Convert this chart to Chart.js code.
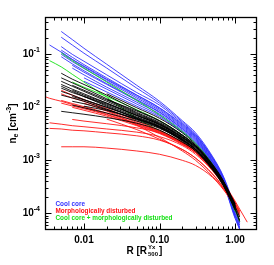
<!DOCTYPE html>
<html><head><meta charset="utf-8">
<script src="https://cdn.jsdelivr.net/npm/chart.js@4"></script>
<style>html,body{margin:0;padding:0;background:#fff}canvas{display:block}</style>
</head><body>
<canvas id="c" width="274" height="265"></canvas>
<script>
// radius grid (R / R500) shared by every profile; null = profile not measured there
const radius = [0.003,0.0035,0.005,0.007,0.01,0.02,0.05,0.1,0.2,0.3,0.5,0.7,1.0,1.15,1.45];

const coolCore = [
  [null,null,0.27,0.19,0.13,0.065,0.026,0.013,0.0056,0.0033,0.0012,5.0e-4,1.3e-4,null,null],
  [null,null,0.21,0.15,0.105,0.055,0.023,0.012,0.0053,0.0031,0.00115,4.8e-4,1.2e-4,6.5e-5,null],
  [null,0.15,0.11,0.08,0.06,0.034,0.017,0.0098,0.0048,0.0029,0.0011,4.6e-4,1.15e-4,null,null],
  [null,null,0.14,0.10,0.074,0.041,0.019,0.011,0.005,0.003,0.00112,4.7e-4,1.1e-4,6e-5,null],
  [null,null,0.12,0.088,0.064,0.036,0.017,0.0097,0.0046,0.0028,0.00105,4.4e-4,1.05e-4,null,null],
  [null,null,0.11,0.08,0.058,0.033,0.016,0.0092,0.0044,0.0027,0.001,4.2e-4,1.0e-4,5.5e-5,null],
  [null,null,0.10,0.073,0.054,0.031,0.015,0.0087,0.0042,0.0026,9.7e-4,4.1e-4,9.5e-5,null,null],
  [null,null,0.09,0.066,0.049,0.028,0.014,0.0082,0.004,0.0025,9.4e-4,4.0e-4,9.2e-5,5.2e-5,null],
  [null,null,null,0.062,0.046,0.027,0.0135,0.008,0.0039,0.0024,9.1e-4,3.9e-4,9e-5,null,null],
  [null,null,null,0.055,0.041,0.024,0.0125,0.0075,0.0037,0.0023,8.8e-4,3.8e-4,8.6e-5,5e-5,null],
  [null,null,null,null,0.036,0.022,0.0115,0.007,0.0035,0.0022,8.5e-4,3.7e-4,8.3e-5,null,null],
  [null,null,null,null,0.031,0.0195,0.0105,0.0066,0.0034,0.0021,8.2e-4,3.6e-4,8e-5,5e-5,null]
];

const coolCoreDisturbed = [
  [null,null,0.106,0.076,0.055,0.03,0.0135,0.0072,0.0035,0.0021,8.5e-4,3.8e-4,1.1e-4,null,null],
  [null,0.076,0.058,0.042,0.030,0.0155,0.0062,0.0036,0.0022,0.0015,6.8e-4,3.3e-4,1.15e-4,7e-5,null],
  [null,null,null,0.03,0.024,0.016,0.009,0.0056,0.003,0.0019,8e-4,3.6e-4,1.2e-4,null,null]
];

const otherClusters = [
  [null,null,0.044,0.034,0.027,0.017,0.0088,0.0056,0.003,0.0019,8.3e-4,4e-4,1.45e-4,null,null],
  [null,null,0.036,0.029,0.023,0.0145,0.008,0.0052,0.0029,0.0018,8.0e-4,3.9e-4,1.4e-4,null,null],
  [null,null,0.031,0.025,0.02,0.013,0.0074,0.0049,0.0027,0.0017,7.7e-4,3.8e-4,1.35e-4,8.5e-5,null],
  [null,null,0.027,0.022,0.018,0.012,0.007,0.0047,0.0026,0.0017,7.5e-4,3.7e-4,1.3e-4,null,null],
  [null,null,0.023,0.019,0.016,0.011,0.0066,0.0045,0.0025,0.0016,7.3e-4,3.6e-4,1.3e-4,null,null],
  [null,null,0.02,0.017,0.014,0.01,0.0062,0.0043,0.0024,0.0016,7.1e-4,3.5e-4,1.25e-4,7.5e-5,null],
  [null,null,0.017,0.015,0.013,0.0092,0.0058,0.0041,0.0023,0.0015,6.9e-4,3.4e-4,1.2e-4,null,null],
  [null,null,0.0084,0.0079,0.0074,0.0064,0.005,0.0037,0.0022,0.0015,6.6e-4,3.3e-4,1.2e-4,null,null],
  [null,null,null,0.021,0.017,0.012,0.0071,0.0047,0.0027,0.0018,7.8e-4,3.9e-4,1.4e-4,null,null],
  [null,null,null,0.026,0.021,0.0138,0.0077,0.005,0.0028,0.0018,7.8e-4,3.8e-4,1.35e-4,null,null],
  [null,null,null,0.013,0.0117,0.009,0.006,0.0042,0.0024,0.0016,7.1e-4,3.5e-4,1.25e-4,null,null],
  [null,null,null,null,0.016,0.0115,0.007,0.0048,0.0027,0.0018,8.0e-4,4e-4,1.5e-4,null,null],
  [null,null,null,null,null,0.018,0.0098,0.0062,0.0033,0.002,8.5e-4,4.1e-4,1.4e-4,null,null],
  [null,null,null,null,null,0.014,0.0085,0.0055,0.003,0.0019,8.2e-4,4e-4,1.5e-4,null,null],
  [null,null,null,null,0.0105,0.0087,0.006,0.0043,0.0025,0.0016,7.0e-4,3.4e-4,1.15e-4,null,null],
  [null,null,null,0.016,0.0138,0.01,0.0064,0.0044,0.0025,0.0016,7.2e-4,3.5e-4,1.2e-4,7e-5,null],
  [null,null,0.025,0.02,0.016,0.0105,0.0062,0.0042,0.0024,0.0016,7.3e-4,3.7e-4,1.35e-4,null,null],
  [null,null,null,0.011,0.0098,0.0078,0.0055,0.004,0.0024,0.0016,7.2e-4,3.6e-4,1.3e-4,null,null]
];

const disturbed = [
  [0.016,0.0148,0.013,0.0113,0.0098,0.0074,0.0048,0.0034,0.0021,0.0015,7.2e-4,3.8e-4,1.7e-4,1.2e-4,6.8e-5],
  [null,null,0.0135,0.0118,0.0103,0.0078,0.005,0.0035,0.0022,0.0015,7.2e-4,3.7e-4,1.6e-4,1.1e-4,null],
  [null,null,0.012,0.0106,0.0094,0.0072,0.0047,0.0033,0.002,0.0014,6.8e-4,3.6e-4,1.55e-4,null,null],
  [null,null,null,0.01,0.0088,0.0068,0.0045,0.0032,0.002,0.0014,6.6e-4,3.5e-4,1.5e-4,1.0e-4,null],
  [null,0.0051,0.0048,0.0045,0.0043,0.0039,0.0034,0.0028,0.0019,0.0013,6.4e-4,3.4e-4,1.5e-4,1.05e-4,null],
  [null,0.004,0.0039,0.0037,0.0036,0.0033,0.0029,0.0024,0.0016,0.0011,5.5e-4,3.0e-4,1.4e-4,9.5e-5,null],
  [null,null,0.0018,0.0018,0.0018,0.0017,0.0015,0.0013,0.001,8e-4,4.8e-4,2.8e-4,1.35e-4,null,null],
  [null,null,null,0.0059,0.0055,0.0049,0.0041,0.0033,0.0021,0.0014,6.8e-4,3.6e-4,1.6e-4,null,null],
  [null,null,0.021,0.017,0.014,0.0095,0.0055,0.0037,0.0022,0.0015,7e-4,3.7e-4,1.6e-4,null,null],
  [null,null,0.018,0.015,0.013,0.0088,0.0052,0.0035,0.0021,0.0014,6.8e-4,3.6e-4,1.55e-4,null,null],
  [null,null,null,null,0.012,0.0085,0.0046,0.0027,0.0015,0.001,5e-4,2.9e-4,1.35e-4,9e-5,null],
  [null,null,null,null,null,0.006,0.0038,0.0025,0.0016,0.0011,5.6e-4,3.1e-4,1.4e-4,null,null]
];

const xTickValues = [0.01, 0.1, 1];
const xTickLabels = ['0.01', '0.10', '1.00'];
const yTickValues = [1e-1, 1e-2, 1e-3, 1e-4];
const yTickExponents = ['-1', '-2', '-3', '-4'];
const legendLabels = ['Cool core', 'Morphologically disturbed', 'Cool core + morphologically disturbed'];
const groupColors = ['rgb(50,50,255)', 'rgb(255,20,20)', 'rgb(20,225,20)', 'rgb(0,0,0)'];

function toPoints(vals){
  return radius.map((r,i)=>({x:r, y:vals[i]})).filter(p=>p.y!==null);
}
function makeSets(group, color){
  return group.map(v=>({data:toPoints(v), borderColor:color, borderWidth:0.9,
    pointRadius:0, fill:false, cubicInterpolationMode:'monotone'}));
}
const datasets = [
  ...makeSets(otherClusters, groupColors[3]),
  ...makeSets(disturbed, groupColors[1]),
  ...makeSets(coolCoreDisturbed, groupColors[2]),
  ...makeSets(coolCore, groupColors[0])
];

const FONT = '"Liberation Sans", Arial, Helvetica, sans-serif';

function drawRich(ctx, parts, x, y, align){
  let w = 0;
  parts.forEach(p=>{ctx.font = 'bold '+p.size+'px '+FONT; p.w = ctx.measureText(p.t).width; w += p.w;});
  let cx = align==='right' ? x - w : align==='center' ? x - w/2 : x;
  parts.forEach(p=>{ctx.font = 'bold '+p.size+'px '+FONT; ctx.fillText(p.t, cx, y + (p.dy||0)); cx += p.w;});
  return w;
}

const idlAxes = {
  id:'idlAxes',
  afterDatasetsDraw(chart){
    const {ctx, chartArea:a, scales:{x, y}} = chart;
    ctx.save();
    ctx.strokeStyle = '#000'; ctx.fillStyle = '#000'; ctx.lineWidth = 1;
    const L = Math.round(a.left)+0.5, R = Math.round(a.right)-0.5,
          T = Math.round(a.top)+0.5, B = Math.round(a.bottom)-0.5;
    ctx.beginPath();
    for (let k=-3; k<=0; k++) for (let m=1; m<=9; m++){
      const v = m*Math.pow(10,k);
      if (v < x.min || v > x.max) continue;
      const px = Math.round(x.getPixelForValue(v))+0.5;
      const len = m===1 ? 6 : 3;
      ctx.moveTo(px, B); ctx.lineTo(px, B-len);
      ctx.moveTo(px, T); ctx.lineTo(px, T+len);
    }
    for (let k=-5; k<=-1; k++) for (let m=1; m<=9; m++){
      const v = m*Math.pow(10,k);
      if (v < y.min || v > y.max) continue;
      const py = Math.round(y.getPixelForValue(v))+0.5;
      const len = m===1 ? 6 : 3;
      ctx.moveTo(L, py); ctx.lineTo(L+len, py);
      ctx.moveTo(R, py); ctx.lineTo(R-len, py);
    }
    ctx.stroke();
    ctx.lineWidth = 1.3;
    ctx.strokeRect(L, T, R-L, B-T);

    ctx.textBaseline = 'middle';
    ctx.textAlign = 'left';
    xTickValues.forEach((v,i)=>{
      const px = x.getPixelForValue(v);
      drawRich(ctx, [{t:xTickLabels[i], size:10}], px, a.bottom+10, 'center');
    });
    yTickValues.forEach((v,i)=>{
      const py = y.getPixelForValue(v);
      drawRich(ctx, [{t:'10', size:10}, {t:yTickExponents[i], size:7, dy:-4}], a.left-5, py, 'right');
    });
    const cxT = (a.left+a.right)/2;
    drawRich(ctx, [{t:'R [R', size:10}], cxT-4, a.bottom+21, 'right');
    ctx.font = 'bold 6px '+FONT;
    ctx.fillText('Yx', cxT-3, a.bottom+17.5);
    ctx.fillText('500', cxT-3, a.bottom+24);
    ctx.font = 'bold 10px '+FONT;
    ctx.fillText(']', cxT+8, a.bottom+21);
    ctx.save();
    ctx.translate(13, (a.top+a.bottom)/2);
    ctx.rotate(-Math.PI/2);
    drawRich(ctx, [{t:'n', size:10}, {t:'e', size:7, dy:3}, {t:' [cm', size:10}, {t:'-3', size:7, dy:-4}, {t:']', size:10}], 0, 0, 'center');
    ctx.restore();
    legendLabels.forEach((s,i)=>{
      ctx.fillStyle = groupColors[i];
      drawRich(ctx, [{t:s, size:6.4}], 55.5, 204+i*7, 'left');
    });
    ctx.restore();
  }
};

new Chart(document.getElementById('c'), {
  type:'line',
  data:{datasets},
  options:{
    responsive:false, animation:false, devicePixelRatio:1,
    layout:{padding:{left:45, right:17, top:17, bottom:35}},
    plugins:{legend:{display:false}, tooltip:{enabled:false}},
    scales:{
      x:{type:'logarithmic', min:0.00305, max:1.95, display:false},
      y:{type:'logarithmic', min:4.84e-5, max:0.506, display:false}
    }
  },
  plugins:[idlAxes]
});
</script>
</body></html>
